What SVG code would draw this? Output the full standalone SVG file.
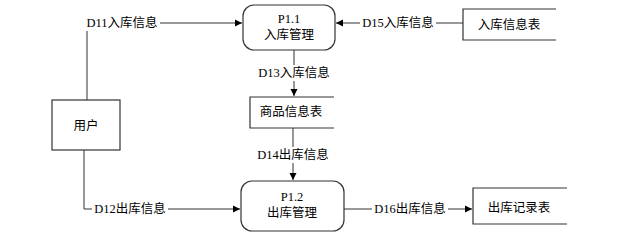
<svg xmlns="http://www.w3.org/2000/svg" width="621" height="237" viewBox="0 0 621 237">
<style>
.t{font-family:"Liberation Serif","Noto Sans CJK SC",serif;font-size:12.5px;fill:#000;text-anchor:middle;dominant-baseline:central}
.b{fill:#fff;stroke:#333;stroke-width:1.2}
.l{fill:none;stroke:#333;stroke-width:1}
.bg{fill:#fff}
</style>
<defs>
<marker id="a" markerWidth="8" markerHeight="8" refX="7" refY="4" orient="auto" markerUnits="userSpaceOnUse">
<path d="M0,0.5 L7,4 L0,7.5 Z" fill="#000"/>
</marker>
</defs>
<rect width="621" height="237" fill="#fff"/>
<g id="connectors">
<path class="l" d="M87,100 V23 H242" marker-end="url(#a)"/>
<path class="l" d="M463,23 H336" marker-end="url(#a)"/>
<path class="l" d="M294,50 V96" marker-end="url(#a)"/>
<path class="l" d="M293,128 V180" marker-end="url(#a)"/>
<path class="l" d="M84,150 V209 H240" marker-end="url(#a)"/>
<path class="l" d="M344,209 H472" marker-end="url(#a)"/>
<rect class="bg" x="84" y="15" width="76" height="16"/>
<text class="t" x="122" y="23">D11入库信息</text>
<rect class="bg" x="360" y="15" width="76" height="16"/>
<text class="t" x="398" y="23">D15入库信息</text>
<rect class="bg" x="256" y="65" width="76" height="16"/>
<text class="t" x="294" y="73">D13入库信息</text>
<rect class="bg" x="255" y="147" width="76" height="16"/>
<text class="t" x="293" y="155">D14出库信息</text>
<rect class="bg" x="92" y="201" width="76" height="16"/>
<text class="t" x="130" y="209">D12出库信息</text>
<rect class="bg" x="372" y="201" width="76" height="16"/>
<text class="t" x="410" y="209">D16出库信息</text>
</g>
<g id="p11">
<rect class="b" x="243" y="5" width="92" height="45" rx="11"/>
<text class="t" x="289" y="19">P1.1</text>
<text class="t" x="289" y="35">入库管理</text>
</g>
<g id="p12">
<rect class="b" x="241" y="181" width="103" height="50" rx="11"/>
<text class="t" x="292" y="197">P1.2</text>
<text class="t" x="292" y="213">出库管理</text>
</g>
<g id="user">
<rect class="b" x="52" y="100" width="68" height="50"/>
<text class="t" x="86" y="126">用户</text>
</g>
<g id="store-in">
<path class="b" d="M556,9 H463 V40 H556" fill="#fff"/>
<text class="t" x="509" y="25">入库信息表</text>
</g>
<g id="store-goods">
<path class="b" d="M334,97 H250 V128 H334"/>
<text class="t" x="291" y="112">商品信息表</text>
</g>
<g id="store-out">
<path class="b" d="M567,188 H473 V224 H567"/>
<text class="t" x="519" y="208">出库记录表</text>
</g>
</svg>
